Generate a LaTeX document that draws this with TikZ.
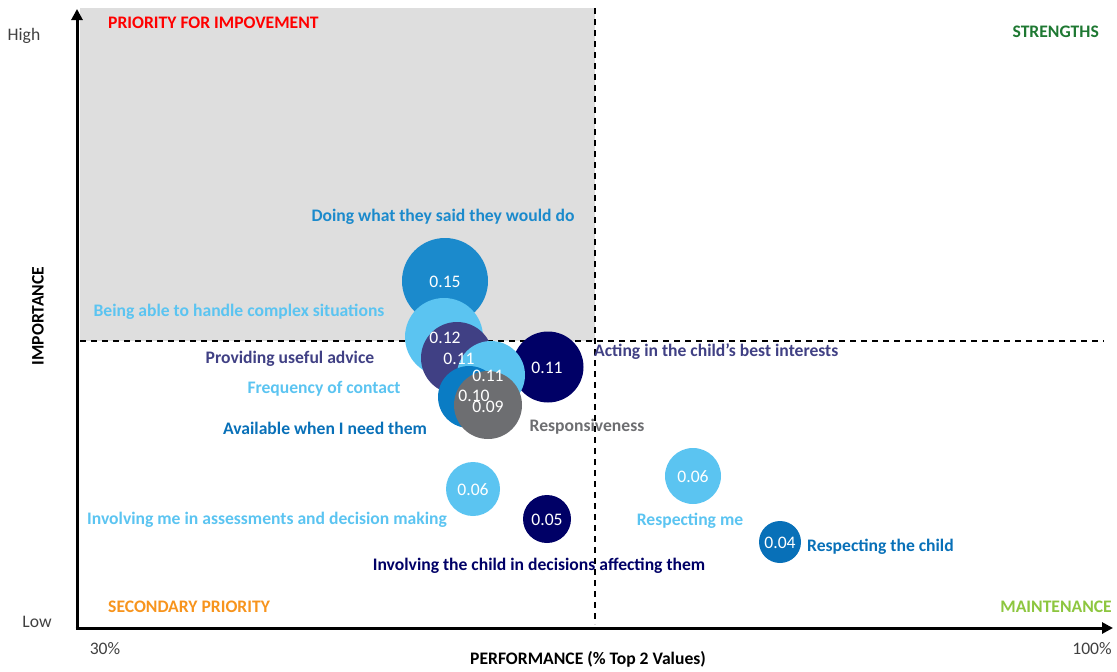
\documentclass[tikz,border=0pt]{standalone}
\usepackage{fontspec}
\setmainfont{Carlito}
\usetikzlibrary{arrows.meta}
\definecolor{bubmid}{RGB}{27,138,204}
\definecolor{bublight}{RGB}{91,196,241}
\definecolor{bubpurple}{RGB}{64,64,132}
\definecolor{bubnavy}{RGB}{0,0,102}
\definecolor{bubblue}{RGB}{10,124,196}
\definecolor{bubdark}{RGB}{8,112,184}
\definecolor{bubgray}{RGB}{109,110,113}
\definecolor{quadgray}{RGB}{222,222,222}
\definecolor{qred}{RGB}{255,0,0}
\definecolor{qgreen}{RGB}{30,120,50}
\definecolor{qorange}{RGB}{247,148,29}
\definecolor{qlime}{RGB}{141,198,63}
\definecolor{axtext}{RGB}{64,64,64}
\tikzset{
  bub/.style={circle,inner sep=0pt,minimum size=#1,draw=none},
  val/.style={text=white,font=\fontsize{17.6}{20}\selectfont,inner sep=0pt},
  lab/.style={font=\fontsize{17.6}{20}\selectfont\bfseries,inner sep=0pt},
  axlab/.style={font=\fontsize{17.6}{20}\selectfont,text=axtext,inner sep=0pt},
  divider/.style={line width=1.3pt,dash pattern=on 6pt off 5pt},
  axis/.style={line width=3pt,-{Triangle[width=11pt,length=11pt]}}
}
\begin{document}
\begin{tikzpicture}[x=1pt,y=-1pt]
\useasboundingbox (0,0) rectangle (1117,672);
% quadrant shading
\fill[quadgray] (80,8) rectangle (595,341);
% dividers
\coordinate (vtop) at (595,8);
\coordinate (vbot) at (595,624);
\coordinate (hleft) at (80,341);
\coordinate (hright) at (1104,341);
\draw[divider] (vtop) -- (vbot);
\draw[divider] (hleft) -- (hright);
% axes
\coordinate (org) at (77,628);
\coordinate (ytip) at (77,9);
\coordinate (xtip) at (1113,628);
\coordinate (org2) at (75.5,628);
\draw[axis] (org) -- (ytip);
\draw[axis] (org2) -- (xtip);
% bubbles
\node[bub=86pt,fill=bubmid] (b1) at (445,281) {};
\node[bub=78pt,fill=bublight] (b2) at (444,337) {};
\node[bub=72pt,fill=bubpurple] (b3) at (457,358) {};
\node[bub=71pt,fill=bubnavy] (b5) at (548,367) {};
\node[bub=68pt,fill=bublight] (b4) at (491,375) {};
\node[bub=62pt,fill=bubblue] (b6) at (469,397) {};
\node[bub=68pt,fill=bubgray] (b7) at (488,405) {};
\node[bub=54pt,fill=bublight] (b8) at (473,489) {};
\node[bub=48pt,fill=bubnavy] (b9) at (547,519) {};
\node[bub=56pt,fill=bublight] (b10) at (693,476) {};
\node[bub=42pt,fill=bubdark] (b11) at (780,542) {};
% values
\node[val] at (445,282) {0.15};
\node[val] at (445,338) {0.12};
\node[val] at (459,359) {0.11};
\node[val] at (488,376) {0.11};
\node[val] at (547,368) {0.11};
\node[val] at (474,396) {0.10};
\node[val] at (488,407) {0.09};
\node[val] at (473,490) {0.06};
\node[val] at (547,520) {0.05};
\node[val] at (693,477) {0.06};
\node[val] at (780,543) {0.04};
% bubble labels
\node[lab,text=bubmid] (l1) at (443,217) {Doing what they said they would do};
\node[lab,text=bublight] (l2) at (239,312) {Being able to handle complex situations};
\node[lab,text=bubpurple] (l3) at (290,359) {Providing useful advice};
\node[lab,text=bublight] (l4) at (324,389) {Frequency of contact};
\node[lab,text=bubpurple,anchor=west] (l5) at (594,352) {Acting in the child’s best interests};
\node[lab,text=bubdark] (l6) at (325,428) {Available when I need them};
\node[lab,text=bubgray] (l7) at (587,427) {Responsiveness};
\node[lab,text=bublight] (l8) at (267,520) {Involving me in assessments and decision making};
\node[lab,text=bubnavy] (l9) at (539,566) {Involving the child in decisions affecting them};
\node[lab,text=bublight] (l10) at (690,521) {Respecting me};
\node[lab,text=bubdark,anchor=west] (l11) at (807,547) {Respecting the child};
% quadrant labels
\node[lab,text=qred,anchor=west] (q1) at (108,23) {PRIORITY FOR IMPOVEMENT};
\node[lab,text=qgreen,anchor=east] (q2) at (1099,32) {STRENGTHS};
\node[lab,text=qorange,anchor=west] (q3) at (108,607) {SECONDARY PRIORITY};
\node[lab,text=qlime,anchor=east] (q4) at (1112,607) {MAINTENANCE};
% axis labels
\node[axlab] (hi) at (24,36) {High};
\node[axlab] (lo) at (37,622) {Low};
\node[axlab] (p30) at (105,649) {30\%};
\node[axlab] (p100) at (1092,649) {100\%};
\node[lab] (xl) at (588,659) {PERFORMANCE (\% Top 2 Values)};
\node[lab,rotate=90] (yl) at (38,316) {IMPORTANCE};
\end{tikzpicture}
\end{document}
